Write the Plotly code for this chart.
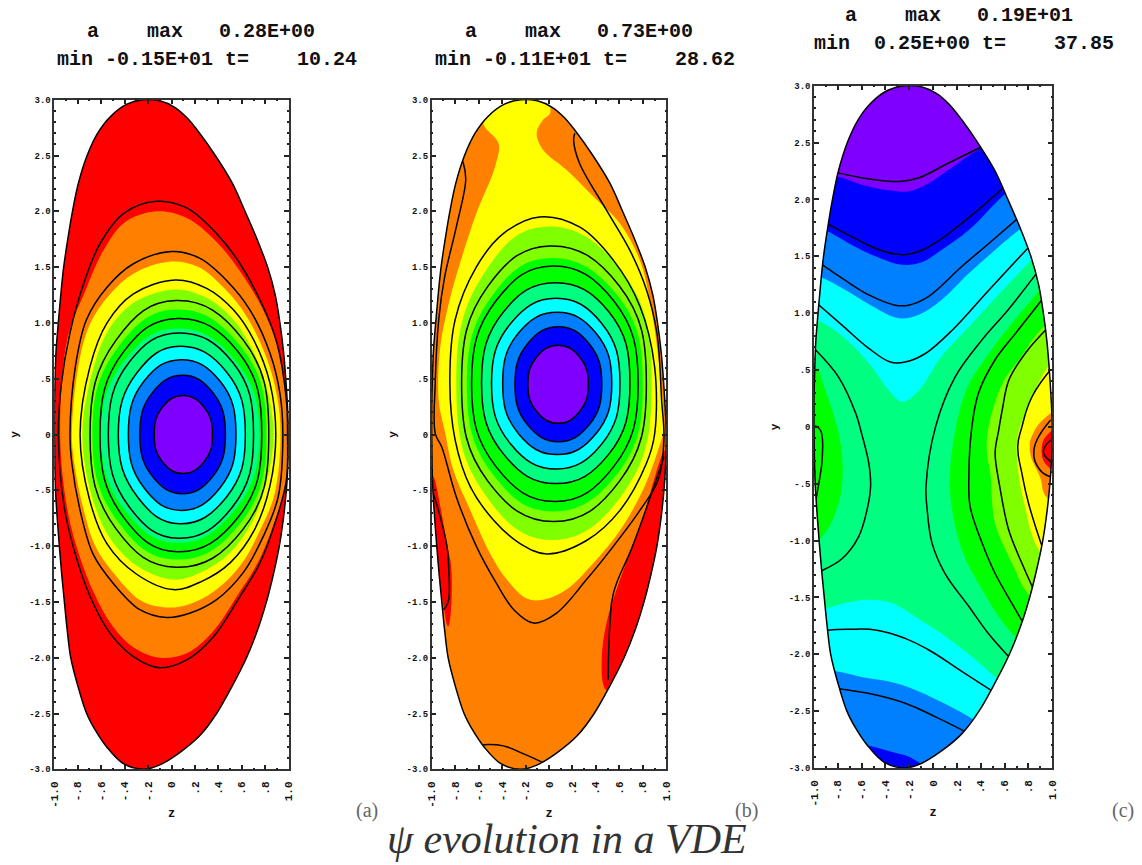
import plotly.graph_objects as go

RED, ORANGE, YELLOW, CHART = "#ff0000", "#ff8000", "#ffff00", "#80ff00"
GREEN, SPRING, CYAN, AZURE, BLUE, VIOLET = "#00ff00", "#00ff80", "#00ffff", "#0080ff", "#0000ff", "#8000ff"

X_TICKS = [-1, -.8, -.6, -.4, -.2, 0, .2, .4, .6, .8, 1]
X_LABELS = ["-1.0", "-.8", "-.6", "-.4", "-.2", "0", ".2", ".4", ".6", ".8", "1.0"]
Y_TICKS = [3, 2.5, 2, 1.5, 1, .5, 0, -.5, -1, -1.5, -2, -2.5, -3]
Y_LABELS = ["3.0", "2.5", "2.0", "1.5", "1.0", ".5", "0", "-.5", "-1.0", "-1.5", "-2.0", "-2.5", "-3.0"]

# Plasma boundary (same in all panels)
BOUNDARY = [(-.24,3.0),(-.1,2.99),(.03,2.93),(.13,2.84),(.24,2.7),(.374,2.5),(.52,2.25),(.627,2.0),(.73,1.75),(.82,1.5),(.885,1.25),(.925,1.0),
            (.955,.75),(.975,.5),(.99,.25),(1.0,0),(.995,-.25),(.98,-.5),(.955,-.75),(.92,-1),(.87,-1.25),(.81,-1.5),(.735,-1.75),
            (.64,-2),(.52,-2.25),(.385,-2.5),(.24,-2.7),(.07,-2.85),(-.1,-2.96),
            (-.24,-3.0),(-.41,-2.95),(-.553,-2.8),(-.65,-2.65),(-.724,-2.5),(-.8,-2.25),(-.86,-2),(-.89,-1.75),(-.914,-1.5),
            (-.937,-1.25),(-.957,-1),(-.975,-.75),(-.99,-.5),(-.997,-.25),
            (-1.0,0),(-1.0,.25),(-.994,.5),(-.985,.75),(-.966,1.0),(-.945,1.25),(-.92,1.5),(-.885,1.75),(-.845,2.0),(-.795,2.25),
            (-.72,2.5),(-.63,2.7),(-.52,2.85),(-.38,2.96)]

# ---------- Panel (a): colour band edges ----------
A_ORANGE = [(-.95,0),(-.89,.85),(-.73,1.3),(-.58,1.65),(-.4,1.9),(-.13,2.0),(.13,1.94),(.38,1.73),(.58,1.47),(.78,1.12),
            (.9,.8),(.99,.3),(1.02,0),(.99,-.4),(.9,-.72),(.75,-1.12),(.57,-1.43),(.35,-1.77),(.13,-1.96),(-.1,-2.0),
            (-.32,-1.91),(-.5,-1.72),(-.67,-1.4),(-.82,-.97),(-.9,-.6)]
A_YELLOW = [(-.85,0),(-.80,.58),(-.70,.98),(-.53,1.25),(-.31,1.45),(0,1.55),(.23,1.5),(.45,1.31),(.64,1.06),(.81,.69),
            (.9,.35),(.93,0),(.88,-.53),(.75,-.87),(.59,-1.17),(.37,-1.4),(.15,-1.52),(-.04,-1.55),(-.26,-1.49),
            (-.48,-1.26),(-.65,-1.0),(-.76,-.63),(-.83,-.25)]
A_CHART = [(-.76,0),(-.67,.58),(-.53,.95),(-.31,1.19),(.03,1.30),(.29,1.23),(.51,1.05),(.67,.8),(.81,.43),(.87,0),
           (.81,-.43),(.68,-.8),(.48,-1.08),(.24,-1.24),(.015,-1.30),(-.29,-1.18),(-.53,-.92),(-.68,-.55)]
A_GREEN = [(.04,1.12),(.59,.79),(.81,0),(.59,-.79),(.04,-1.12),(-.45,-.79),(-.675,0),(-.45,.79)]
A_SPRING = [(.05,.95),(.53,.68),(.75,0),(.53,-.69),(.05,-.97),(-.39,-.69),(-.60,0),(-.39,.68)]

# Panel (a): contour lines
A_L1 = [(-.965,0),(-.94,.45),(-.866,.91),(-.75,1.35),(-.61,1.71),(-.41,1.98),(-.13,2.09),(.13,2.03),(.385,1.80),
        (.585,1.53),(.78,1.15),(.90,.82),(.98,.31),(.99,0),(.98,-.41),(.90,-.74),(.755,-1.15),(.585,-1.45),(.36,-1.81),
        (.13,-2.02),(-.1,-2.09),(-.325,-1.99),(-.525,-1.78),(-.695,-1.45),(-.84,-1.0),(-.92,-.62)]
A_L2 = [(-.866,0),(-.82,.61),(-.725,1.03),(-.55,1.32),(-.325,1.53),(0,1.64),(.24,1.58),(.47,1.38),(.67,1.115),(.84,.73),
        (.925,.37),(.95,0),(.91,-.56),(.78,-.92),(.61,-1.24),(.385,-1.48),(.16,-1.6),(-.04,-1.64),(-.27,-1.57),
        (-.5,-1.33),(-.67,-1.07),(-.78,-.68),(-.85,-.26)]
A_L3 = [(-.78,0),(-.695,.61),(-.55,1.0),(-.325,1.26),(.03,1.385),(.3,1.31),(.53,1.115),(.70,.85),(.84,.46),(.89,0),
        (.84,-.46),(.71,-.85),(.5,-1.15),(.25,-1.32),(.015,-1.39),(-.3,-1.25),(-.55,-.98),(-.7,-.58)]
A_L4 = [(.04,1.20),(.61,.85),(.83,0),(.61,-.85),(.04,-1.19),(-.47,-.85),(-.695,0),(-.47,.85)]
A_L5 = [(.05,1.04),(.57,.74),(.77,0),(.57,-.74),(.05,-1.05),(-.41,-.74),(-.61,0),(-.41,.74)]
A_L6 = [(.06,.91),(.52,.65),(.70,0),(.52,-.65),(.06,-.93),(-.36,-.65),(-.539,0),(-.36,.65)]
A_L7 = [(.07,.79),(.47,.56),(.63,0),(.47,-.56),(.07,-.80),(-.29,-.56),(-.454,0),(-.29,.56)]
A_L8 = [(.08,.67),(.415,.477),(.55,0),(.415,-.477),(.08,-.68),(-.235,-.477),(-.368,0),(-.235,.477)]
A_L9 = [(.095,.53),(.353,.375),(.46,0),(.353,-.375),(.095,-.53),(-.163,-.375),(-.27,0),(-.163,.375)]
A_L10 = [(.1,.35),(.277,.247),(.35,0),(.277,-.247),(.1,-.35),(-.077,-.247),(-.147,0),(-.077,.247)]

# ---------- Panel (b) ----------
B_RED_LEFT = [(-.985,-.38),(-.87,-.975),(-.83,-1.24),(-.86,-1.72),(-.9,-1.54),(-.96,-1.0),(-.99,-.56)]
B_RED_RIGHT = [(.99,-.14),(.775,-.83),(.605,-1.30),(.49,-1.69),(.45,-1.99),(.46,-2.23),(.49,-2.29),(.66,-1.99),(.80,-1.63),
               (.92,-1.15),(.99,-.71)]
B_YELLOW = [(-.56,2.79),(-.43,2.61),(-.46,2.40),(-.62,1.98),(-.76,1.53),(-.86,1.15),(-.93,.76),(-.94,.3),(-.89,.04),
            (-.815,-.32),(-.67,-.68),(-.50,-1.07),(-.36,-1.30),(-.19,-1.47),(-.05,-1.48),(.15,-1.39),(.38,-1.15),
            (.605,-.86),(.80,-.50),(.93,-.14),(.975,.04),(.94,.61),(.86,1.2),(.775,1.56),(.605,1.89),(.38,2.13),
            (.15,2.37),(-.05,2.55),(-.105,2.70),(-.05,2.82),(.01,2.88),(-.05,3.1),(-.3,3.1),(-.45,3.0)]
B_CHART = [(-.03,1.862),(.63,1.45),(.875,.45),(.63,-.53),(.02,-.945),(-.55,-.53),(-.79,.45),(-.55,1.45)]
B_GREEN = [(.0,1.58),(.58,1.25),(.80,.45),(.58,-.355),(.03,-.69),(-.48,-.355),(-.70,.45),(-.48,1.25)]

B_OPEN = [(-.76,2.5),(-.73,2.43),(-.71,2.28),(-.79,1.86),(-.89,1.41),(-.94,1.03),(-.97,.46),(-.97,.01),(-.915,-.11),(-.79,-.56),
          (-.62,-1.0),(-.45,-1.33),(-.30,-1.57),(-.13,-1.69),(.065,-1.6),(.32,-1.30),(.55,-1.0),(.775,-.68),(.93,-.41),
          (.98,-.05),(.96,.31),(.92,.91),(.83,1.30),(.69,1.65),(.49,2.01),(.26,2.43),(.21,2.64),(.22,2.70)]
B_L2 = [(-.08,1.95),(.26,1.86),(.55,1.56),(.775,1.15),(.90,.61),(.90,0),(.83,-.26),(.605,-.68),(.32,-.95),(-.02,-1.07),
        (-.25,-.975),(-.47,-.77),(-.67,-.47),(-.80,-.05),(-.845,.46),(-.80,1.03),(-.62,1.50),(-.39,1.80)]
B_L3 = [(.01,1.69),(.60,1.33),(.83,.455),(.60,-.42),(.04,-.78),(-.52,-.42),(-.745,.455),(-.52,1.33)]
B_L4 = [(.03,1.51),(.55,1.2),(.76,.455),(.55,-.29),(.05,-.60),(-.45,-.29),(-.66,.455),(-.45,1.2)]
B_L5 = [(.05,1.36),(.51,1.1),(.69,.46),(.51,-.176),(.06,-.44),(-.387,-.176),(-.575,.46),(-.387,1.1)]
B_L6 = [(.06,1.22),(.45,.995),(.605,.455),(.45,-.085),(.06,-.31),(-.327,-.085),(-.49,.455),(-.327,.995)]
B_L7 = [(.07,1.095),(.40,.91),(.535,.457),(.40,.007),(.07,-.18),(-.26,.007),(-.395,.457),(-.26,.91)]
B_L8 = [(.08,.966),(.342,.814),(.45,.45),(.342,.086),(.08,-.065),(-.182,.086),(-.29,.45),(-.182,.814)]
B_L9 = [(.078,.80),(.26,.697),(.335,.45),(.26,.203),(.078,.10),(-.104,.203),(-.18,.45),(-.104,.697)]
B_STRIP_LEFT = [(-.985,-.53),(-.87,-1.0),(-.855,-1.21),(-.86,-1.5),(-.9,-1.57)]
B_STRIP_RIGHT = [(.98,-.2),(.72,-.98),(.55,-1.42),(.52,-1.69),(.505,-2.2)]
B_STRIP_BOTTOM = [(-.56,-2.78),(-.39,-2.79),(-.22,-2.86),(-.05,-2.94)]

C_CYAN_TOP = [(-.99,.94),(-.79,.82),(-.54,.56),(-.37,.32),(-.26,.22),(-.12,.32),(.07,.62),(.30,.88),(.58,1.20),(.80,1.44),
              (1.2,1.9),(1.2,3.3),(-1.2,3.3),(-1.2,.94)]
C_AZURE_TOP = [(-.95,1.32),(-.74,1.205),(-.51,1.06),(-.29,.955),(-.12,.985),(.07,1.115),(.30,1.35),(.52,1.555),(.72,1.73),
               (1.2,2.1),(1.2,3.3),(-1.2,3.3),(-1.2,1.4)]
C_BLUE_TOP = [(-.905,1.73),(-.71,1.615),(-.485,1.50),(-.26,1.425),(-.09,1.45),(.07,1.555),(.30,1.73),(.58,2.025),
              (1.2,2.6),(1.2,3.3),(-1.2,3.3),(-1.2,1.85)]
C_VIOLET_TOP = [(-.80,2.20),(-.60,2.13),(-.37,2.08),(-.205,2.07),(-.04,2.14),(.13,2.26),(.38,2.44),(1.2,2.9),(1.2,3.3),
                (-1.2,3.3),(-1.2,2.25)]
C_GREEN_LEFT = [(-.99,.53),(-.905,.32),(-.80,-.03),(-.76,-.32),(-.78,-.61),(-.875,-.88),(-.975,-1.0),(-1.2,-1.05),(-1.2,.6)]
C_CYAN_BOT = [(-.91,-1.6),(-.74,-1.55),(-.54,-1.52),(-.345,-1.55),(-.15,-1.67),(.07,-1.82),(.30,-2.0),(.52,-2.2),
              (1.0,-2.6),(1.0,-3.3),(-1.2,-3.3),(-1.2,-1.65)]
C_AZURE_BOT = [(-.815,-2.15),(-.6,-2.2),(-.37,-2.24),(-.18,-2.3),(.07,-2.42),(.31,-2.555),(1.0,-3.0),(1.0,-3.3),(-1.2,-3.3),(-1.2,-2.1)]
C_BLUE_BOT = [(-.555,-2.8),(-.345,-2.86),(-.18,-2.915),(-.02,-3.05),(.1,-3.3),(-.8,-3.3),(-.8,-2.75)]
C_GREEN = [(.87,1.17),(.66,.91),(.465,.64),(.30,.375),(.21,.09),(.14,-.41),(.155,-.70),(.24,-1.08),(.41,-1.43),(.665,-1.82),
           (1.3,-2.4),(1.3,1.7)]
C_CHART = [(.90,.85),(.72,.59),(.58,.38),(.465,0),(.45,-.215),(.48,-.41),(.52,-.85),(.69,-1.26),(.77,-1.43),(1.3,-2.0),(1.3,1.2)]
C_YELLOW = [(.955,.515),(.80,.18),(.72,-.03),(.70,-.175),(.72,-.44),(.77,-.70),(.87,-1.05),(1.3,-1.6),(1.3,.9)]
C_ORANGE = [(.986,.12),(.84,-.056),(.813,-.218),(.897,-.44),(.96,-.63),(1.3,-.8),(1.3,.3)]
C_RED = [(.986,-.04),(.91,-.218),(.986,-.37),(1.3,-.5),(1.3,.05)]

C_L1 = [(-.82,2.24),(-.60,2.19),(-.37,2.16),(-.26,2.16),(-.12,2.19),(.13,2.32),(.42,2.47)]
C_L2 = [(-.91,1.8),(-.68,1.67),(-.485,1.57),(-.32,1.52),(-.18,1.525),(-.01,1.6),(.24,1.79),(.61,2.12)]
C_L3 = [(-.95,1.44),(-.74,1.29),(-.54,1.16),(-.32,1.07),(-.205,1.07),(-.04,1.145),(.24,1.41),(.465,1.61),(.73,1.85)]
C_L4 = [(-.99,1.1),(-.765,.895),(-.54,.69),(-.36,.57),(-.235,.57),(-.065,.645),(.16,.85),(.465,1.2),(.82,1.6)]
C_L5 = [(.89,1.38),(.63,1.03),(.41,.765),(.185,.44),(.02,0),(-.06,-.525),(-.05,-.73),(-.01,-1.02),(.10,-1.29),(.30,-1.58),
        (.465,-1.82),(.66,-2.05)]
C_L6 = [(.93,1.14),(.69,.82),(.52,.59),(.38,.295),(.325,0),(.30,-.41),(.31,-.70),(.41,-1.02),(.52,-1.29),(.66,-1.55),(.77,-1.75)]
C_L7 = [(.97,.88),(.775,.65),(.635,.41),(.58,.15),(.55,-.03),(.52,-.23),(.56,-.53),(.635,-.91),(.745,-1.2),(.86,-1.47)]
C_L8 = [(1.0,.52),(.83,.265),(.745,0),(.71,-.175),(.745,-.41),(.80,-.67),(.93,-1.1)]
C_L9 = [(.986,.06),(.846,-.203),(.897,-.38),(.986,-.44)]
C_L10 = [(.986,-.115),(.925,-.218),(.986,-.306)]
C_L11 = [(-.99,.68),(-.795,.44),(-.65,.12),(-.60,-.06),(-.54,-.32),(-.525,-.525),(-.555,-.73),(-.625,-.965),(-.765,-1.16),(-.945,-1.27)]
C_L12 = [(-.99,.01),(-.945,-.03),(-.93,-.26),(-.96,-.50),(-.995,-.70)]
C_L13 = [(-.92,-1.79),(-.71,-1.78),(-.46,-1.79),(-.235,-1.86),(-.04,-1.96),(.24,-2.15),(.49,-2.32)]
C_L14 = [(-.81,-2.3),(-.515,-2.35),(-.235,-2.43),(.02,-2.55),(.27,-2.68)]

MASK_FRAME = [(-3,-6),(3,-6),(3,6),(-3,6)]

TITLES_A = ["a    max   0.28E+00", "min -0.15E+01 t=    10.24"]
TITLES_B = ["a    max   0.73E+00", "min -0.11E+01 t=    28.62"]
TITLES_C = ["a    max   0.19E+01", "min  0.25E+00 t=    37.85"]
PANEL_LABELS = ["(a)", "(b)", "(c)"]
CAPTION = "ψ evolution in a VDE"

W, H = 1142, 865
fig = go.Figure()


def closed(p):
    return list(p) + [p[0]]


def smooth(p):
    return 1.3 if len(p) <= 8 else 1.0


def area(pts, color, ax):
    c = closed(pts)
    fig.add_trace(go.Scatter(x=[a for a, _ in c], y=[b for _, b in c], mode="lines", fill="toself", fillcolor=color,
                             line=dict(width=0, shape="spline", smoothing=smooth(pts)), hoverinfo="skip", showlegend=False,
                             xaxis="x" + ax, yaxis="y" + ax))


def curve(pts, ax, close=False):
    c = closed(pts) if close else pts
    fig.add_trace(go.Scatter(x=[a for a, _ in c], y=[b for _, b in c], mode="lines",
                             line=dict(color="#000000", width=1.5, shape="spline", smoothing=smooth(pts)),
                             hoverinfo="skip", showlegend=False, xaxis="x" + ax, yaxis="y" + ax))


def mask(ax):
    outer = closed(MASK_FRAME)
    inner = closed(BOUNDARY)  # boundary runs clockwise; frame anticlockwise: leaves a hole
    xs = [a for a, _ in outer] + [None] + [a for a, _ in inner]
    ys = [b for _, b in outer] + [None] + [b for _, b in inner]
    fig.add_trace(go.Scatter(x=xs, y=ys, mode="lines", fill="toself", fillcolor="#ffffff",
                             line=dict(width=0, shape="spline", smoothing=1.0), hoverinfo="skip", showlegend=False,
                             xaxis="x" + ax, yaxis="y" + ax))


# Panel a
for pts, col in [(BOUNDARY, RED), (A_ORANGE, ORANGE), (A_YELLOW, YELLOW), (A_CHART, CHART), (A_GREEN, GREEN),
                 (A_SPRING, SPRING), (A_L7, CYAN), (A_L8, AZURE), (A_L9, BLUE), (A_L10, VIOLET)]:
    area(pts, col, "")
for pts in [A_L1, A_L2, A_L3, A_L4, A_L5, A_L6, A_L7, A_L8, A_L9, A_L10]:
    curve(pts, "", True)
mask("")
curve(BOUNDARY, "", True)

# Panel b
for pts, col in [(BOUNDARY, ORANGE), (B_RED_LEFT, RED), (B_RED_RIGHT, RED), (B_YELLOW, YELLOW), (B_CHART, CHART),
                 (B_GREEN, GREEN), (B_L5, SPRING), (B_L6, CYAN), (B_L7, AZURE), (B_L8, BLUE), (B_L9, VIOLET)]:
    area(pts, col, "2")
for pts in [B_L2, B_L3, B_L4, B_L5, B_L6, B_L7, B_L8, B_L9]:
    curve(pts, "2", True)
for pts in [B_OPEN, B_STRIP_LEFT, B_STRIP_RIGHT, B_STRIP_BOTTOM]:
    curve(pts, "2")
mask("2")
curve(BOUNDARY, "2", True)

# Panel c
for pts, col in [(BOUNDARY, SPRING), (C_CYAN_TOP, CYAN), (C_AZURE_TOP, AZURE), (C_BLUE_TOP, BLUE), (C_VIOLET_TOP, VIOLET),
                 (C_GREEN_LEFT, GREEN), (C_CYAN_BOT, CYAN), (C_AZURE_BOT, AZURE), (C_BLUE_BOT, BLUE), (C_GREEN, GREEN),
                 (C_CHART, CHART), (C_YELLOW, YELLOW), (C_ORANGE, ORANGE), (C_RED, RED)]:
    area(pts, col, "3")
for pts in [C_L1, C_L2, C_L3, C_L4, C_L5, C_L6, C_L7, C_L8, C_L9, C_L10, C_L11, C_L12, C_L13, C_L14]:
    curve(pts, "3")
mask("3")
curve(BOUNDARY, "3", True)


def xax(x0, x1, anchor):
    return dict(domain=[x0 / W, x1 / W], range=[-1, 1], anchor=anchor, tickmode="array", tickvals=X_TICKS, ticktext=X_LABELS,
                ticks="inside", ticklen=5, tickwidth=1.5, tickcolor="#222", showgrid=False, zeroline=False, showline=True,
                linecolor="#333", linewidth=1.5, mirror="allticks", tickangle=-90, ticklabelstandoff=6,
                tickfont=dict(family="Liberation Mono", size=11, color="#111", weight="bold"),
                minor=dict(ticks="inside", ticklen=2, tick0=0, dtick=.1, tickcolor="#222", showgrid=False),
                title=dict(text="z", font=dict(family="Liberation Mono", size=12, color="#111", weight="bold"), standoff=2))


def yax(y_top, y_bot, anchor):
    return dict(domain=[1 - y_bot / H, 1 - y_top / H], range=[-3, 3], anchor=anchor, tickmode="array", tickvals=Y_TICKS,
                ticktext=Y_LABELS, ticks="inside", ticklen=5, tickwidth=1.5, tickcolor="#222", showgrid=False, zeroline=False,
                showline=True, linecolor="#333", linewidth=1.5, mirror="allticks",
                tickfont=dict(family="Liberation Mono", size=9, color="#111", weight="bold"),
                minor=dict(ticks="inside", ticklen=2, tick0=0, dtick=.1, tickcolor="#222", showgrid=False),
                title=dict(text="y", font=dict(family="Liberation Mono", size=11, color="#111", weight="bold"), standoff=8))


anns = []


def note(text, px, py, size, family="Liberation Mono", color="#111", weight="bold", anchor="left", style="normal"):
    anns.append(dict(text=text, x=px / W, y=1 - py / H, xref="paper", yref="paper", xanchor=anchor, yanchor="middle",
                     showarrow=False, font=dict(family=family, size=size, color=color, weight=weight, style=style)))


for lines, x1, x2, y1, y2 in [(TITLES_A, 85, 55, 32, 60), (TITLES_B, 463, 433, 32, 60), (TITLES_C, 843, 812, 16, 43)]:
    note(lines[0].replace(" ", "\u00a0"), x1, y1, 20)
    note(lines[1].replace(" ", "\u00a0"), x2, y2, 20)
for label, px in zip(PANEL_LABELS, [354, 733, 1110]):
    note(label, px, 810, 20, family="Liberation Serif", color="#666", weight="normal")
note(CAPTION, 385, 839, 42, family="Liberation Serif", color="#333", weight="normal", style="italic")

fig.update_layout(width=W, height=H, autosize=False, margin=dict(l=0, r=0, t=0, b=0, pad=0, autoexpand=False),
                  paper_bgcolor="white", plot_bgcolor="white",
                  showlegend=False, annotations=anns,
                  xaxis=xax(54.3, 288.7, "y"), yaxis=yax(99.7, 769.3, "x"),
                  xaxis2=xax(431.7, 666.3, "y2"), yaxis2=yax(99.7, 769.3, "x2"),
                  xaxis3=xax(814, 1052.3, "y3"), yaxis3=yax(85.7, 768, "x3"))

fig.write_html("out.html", post_script="document.body.style.margin='0';document.body.style.overflow='hidden';",
               config={"displayModeBar": False})
